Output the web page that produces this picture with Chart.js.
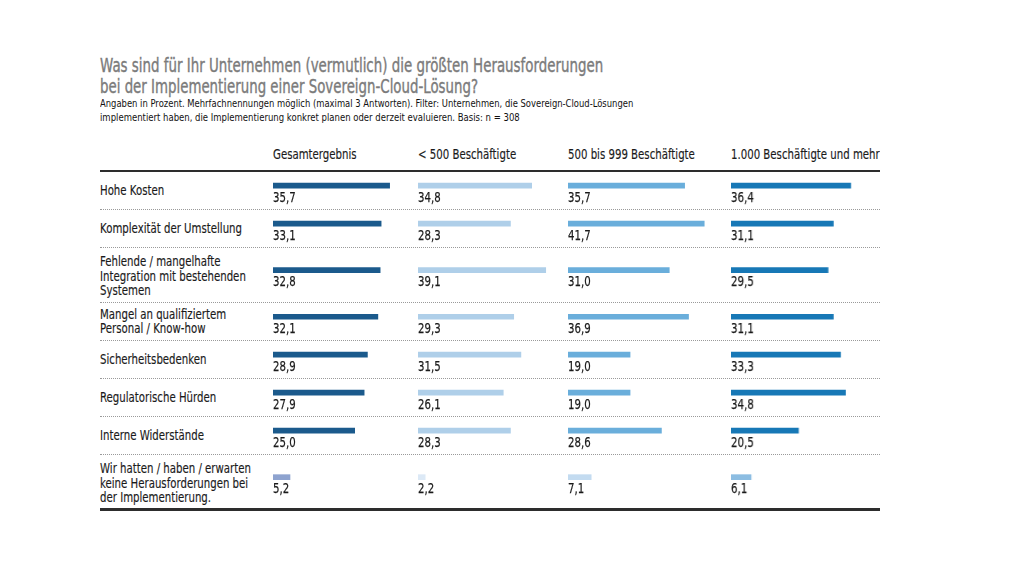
<!DOCTYPE html>
<html><head><meta charset="utf-8">
<script src="https://cdn.jsdelivr.net/npm/chart.js@4/dist/chart.umd.min.js"></script>
<style>
html,body{margin:0;padding:0;background:#fff;width:1024px;height:576px;overflow:hidden}
body{position:relative;font-family:'DejaVu Sans',sans-serif;color:#1a1a1a}
.abs{position:absolute;white-space:nowrap;transform-origin:0 0}
.title{font-size:19px;color:#7b7b7b;line-height:21px;-webkit-text-stroke:0.4px #7b7b7b}
.sub{font-size:11px;color:#111;line-height:13.5px}
.hdr{font-size:14px;line-height:16px;color:#1a1a1a;-webkit-text-stroke:0.15px #1a1a1a}
.lbl{font-size:14px;line-height:14.2px;color:#1a1a1a;-webkit-text-stroke:0.15px #1a1a1a}
.rule{position:absolute;left:100px;width:780px}
canvas{position:absolute}
</style></head><body>
<script>
// ---------- data ----------
const titleLines = ["Was sind für Ihr Unternehmen (vermutlich) die größten Herausforderungen",
                    "bei der Implementierung einer Sovereign-Cloud-Lösung?"];
const subtitleLines = ["Angaben in Prozent. Mehrfachnennungen möglich (maximal 3 Antworten). Filter: Unternehmen, die Sovereign-Cloud-Lösungen",
                       "implementiert haben, die Implementierung konkret planen oder derzeit evaluieren. Basis: n = 308"];
const categories = [
  ["Hohe Kosten"],
  ["Komplexität der Umstellung"],
  ["Fehlende / mangelhafte","Integration mit bestehenden","Systemen"],
  ["Mangel an qualifiziertem","Personal / Know-how"],
  ["Sicherheitsbedenken"],
  ["Regulatorische Hürden"],
  ["Interne Widerstände"],
  ["Wir hatten / haben / erwarten","keine Herausforderungen bei","der Implementierung."]
];
const seriesNames = ["Gesamtergebnis","< 500 Beschäftigte","500 bis 999 Beschäftigte","1.000 Beschäftigte und mehr"];
const gesamt   = [35.7,33.1,32.8,32.1,28.9,27.9,25.0,5.2];
const unter500 = [34.8,28.3,39.1,29.3,31.5,26.1,28.3,2.2];
const mittel   = [35.7,41.7,31.0,36.9,19.0,19.0,28.6,7.1];
const gross    = [36.4,31.1,29.5,31.1,33.3,34.8,20.5,6.1];
const seriesValues = [gesamt, unter500, mittel, gross];
const mainColors  = ['#1b5a8c','#afcfe9','#6aaedb','#1778b6'];
const tintColors  = ['#8ea3cf','#dce9f6','#c3dbf0','#8cbde2'];

// ---------- layout ----------
const L = 100, R = 880, tableTop = 171, tableBottom = 509;
const colLeft = [272.5, 417.5, 567.5, 731];
const pxPerUnit = 3.28, xMax = 45;
const weights = categories.map(c => c.length >= 3 ? 2.9 : 2);
const total = weights.reduce((a,b)=>a+b,0);
const unitPx = (tableBottom - tableTop) / total;
const rowStart = []; let acc = 0;
weights.forEach(w => { rowStart.push(acc); acc += w; });
const rowCenter = rowStart.map((s,i)=> s + weights[i]/2);
const barY = rowCenter.map(c => c - 4.3/unitPx);

function el(tag, cls, css, html){ const e=document.createElement(tag); if(cls) e.className=cls; Object.assign(e.style, css||{}); if(html!=null) e.innerHTML=html; document.body.appendChild(e); return e; }
function fit(e, w){ const a = e.scrollWidth; if(a>0) e.style.transform = 'scaleX(' + (w/a) + ')'; }

// condensed factor for table text, from reference width of one label
const probe = el('span','abs lbl',{left:'0px', top:'-100px'}, 'Komplexität der Umstellung');
const sx = 142 / probe.getBoundingClientRect().width;
probe.remove();

const tw = [503, 378];
titleLines.forEach((t,i)=>{ const e = el('div','abs title',{left:L+'px', top:(55+i*20.5)+'px'}, t); fit(e, tw[i]); });
const sw = [533, 420];
subtitleLines.forEach((t,i)=>{ const e = el('div','abs sub',{left:L+'px', top:(97+i*14)+'px'}, t); fit(e, sw[i]); });
seriesNames.forEach((t,i)=>{ const e = el('div','abs hdr',{left:colLeft[i]+'px', top:'146px'}, t.replace('<','&lt;')); e.style.transform='scaleX('+sx+')'; });

// rules
el('div','rule',{top:(tableTop-1)+'px', height:'2.3px', background:'#2d2d2d'});
el('div','rule',{top:(tableBottom-1)+'px', height:'2.5px', background:'#2d2d2d'});
for(let i=1;i<categories.length;i++){
  const y = tableTop + rowStart[i]*unitPx;
  el('div','rule',{top:Math.round(y)+'px', height:'0', borderTop:'1px dotted #9a9a9a'});
}
// row labels
categories.forEach((lines,i)=>{
  const cy = tableTop + rowCenter[i]*unitPx + (lines.length >= 3 ? 1 : 0);
  const e = el('div','abs lbl',{left:L+'px', top:cy+'px'}, lines.join('<br>'));
  e.style.transform = 'translateY(-50%) scaleX(' + sx + ')';
});

// ---------- charts ----------
const valueLabels = {
  id:'valueLabels',
  afterDatasetsDraw(chart){
    const ctx = chart.ctx;
    const meta = chart.getDatasetMeta(0);
    meta.data.forEach((bar, i)=>{
      const v = chart.data.datasets[0].data[i].x;
      const s = v.toFixed(1).replace('.', ',');
      ctx.save();
      ctx.font = '14px "DejaVu Sans", sans-serif';
      ctx.fillStyle = '#1a1a1a';
      ctx.strokeStyle = '#1a1a1a';
      ctx.lineWidth = 0.25;
      ctx.textAlign = 'left';
      ctx.textBaseline = 'middle';
      ctx.translate(bar.base, bar.y + 12.5);
      ctx.scale(sx, 1);
      ctx.fillText(s, 0, 0);
      ctx.strokeText(s, 0, 0);
      ctx.restore();
    });
  }
};

seriesValues.forEach((vals, c)=>{
  const cv = document.createElement('canvas');
  const w = xMax * pxPerUnit, h = tableBottom - tableTop;
  cv.style.left = colLeft[c] + 'px'; cv.style.top = tableTop + 'px';
  cv.style.width = w + 'px'; cv.style.height = h + 'px';
  cv.width = w; cv.height = h;
  document.body.appendChild(cv);
  new Chart(cv, {
    type:'bar',
    data:{ datasets:[{
      data: vals.map((v,i)=>({x:v, y:barY[i]})),
      backgroundColor: vals.map((v,i)=> i===vals.length-1 ? tintColors[c] : mainColors[c]),
      barThickness:5, borderWidth:0
    }]},
    options:{
      indexAxis:'y', responsive:false, animation:false, events:[],
      layout:{padding:0},
      plugins:{legend:{display:false}, tooltip:{enabled:false}},
      scales:{
        x:{type:'linear', min:0, max:xMax, display:false, offset:false},
        y:{type:'linear', min:0, max:total, reverse:true, display:false, offset:false}
      }
    },
    plugins:[valueLabels]
  });
});
</script>
</body></html>
